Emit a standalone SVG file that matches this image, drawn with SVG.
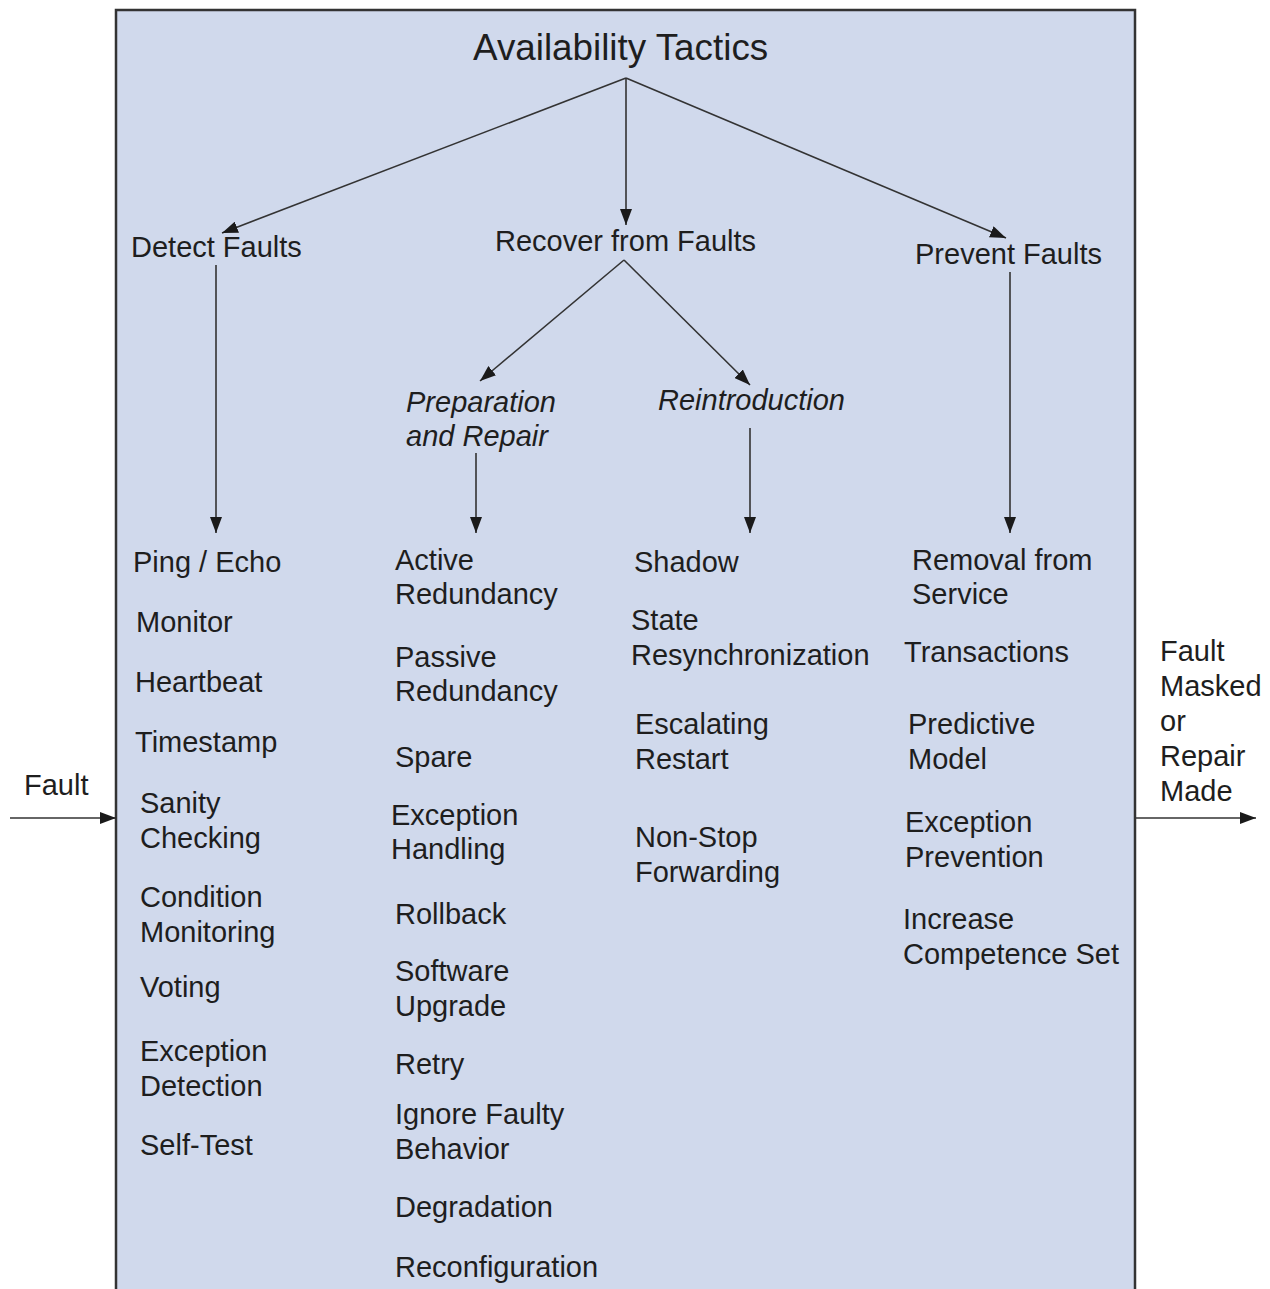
<svg xmlns="http://www.w3.org/2000/svg" width="1270" height="1289" viewBox="0 0 1270 1289">
<defs>
<marker id="ah" viewBox="0 0 16 12" refX="16" refY="6" markerWidth="16" markerHeight="12" markerUnits="userSpaceOnUse" orient="auto"><path d="M0,0 L16,6 L0,12 z" fill="#1a1a1a"/></marker>
<style>
text{font-family:"Liberation Sans",Arial,Helvetica,sans-serif;fill:#1e1e1e;font-size:29px}
.it{font-style:italic}
.title{font-size:36.8px}
.c{stroke:#333;stroke-width:1.6;fill:none;marker-end:url(#ah)}
</style>
</defs>
<rect x="0" y="0" width="1270" height="1289" fill="#ffffff"/>
<rect id="frame" x="116" y="10" width="1019" height="1300" fill="#d0d9ec" stroke="#333" stroke-width="2.5"/>
<g id="connectors">
<line class="c" x1="626" y1="78" x2="222" y2="233"/>
<line class="c" x1="626" y1="78" x2="626" y2="225"/>
<line class="c" x1="626" y1="78" x2="1006" y2="238"/>
<line class="c" x1="624" y1="260" x2="480" y2="381"/>
<line class="c" x1="624" y1="260" x2="750" y2="385"/>
<line class="c" x1="216" y1="265" x2="216" y2="533"/>
<line class="c" x1="1010" y1="272" x2="1010" y2="533"/>
<line class="c" x1="476" y1="453" x2="476" y2="533"/>
<line class="c" x1="750" y1="428" x2="750" y2="533"/>
<line class="c" x1="10" y1="818" x2="116" y2="818"/>
<line class="c" x1="1136" y1="818" x2="1256" y2="818"/>
</g>
<g id="title"><text class="title" x="473" y="60">Availability Tactics</text></g>
<g id="detect"><text x="131" y="257">Detect Faults</text></g>
<g id="recover"><text x="495" y="251">Recover from Faults</text></g>
<g id="prevent"><text x="915" y="264">Prevent Faults</text></g>
<g id="prep"><text class="it" x="406" y="412">Preparation</text><text class="it" x="406" y="446">and Repair</text></g>
<g id="reintro"><text class="it" x="658" y="410">Reintroduction</text></g>
<g id="detect-items">
<text x="133" y="572">Ping / Echo</text>
<text x="136" y="632">Monitor</text>
<text x="135" y="692">Heartbeat</text>
<text x="135" y="752">Timestamp</text>
<text x="140" y="813">Sanity</text>
<text x="140" y="848">Checking</text>
<text x="140" y="907">Condition</text>
<text x="140" y="942">Monitoring</text>
<text x="140" y="997">Voting</text>
<text x="140" y="1061">Exception</text>
<text x="140" y="1096">Detection</text>
<text x="140" y="1155">Self-Test</text>
</g>
<g id="prep-items">
<text x="395" y="570">Active</text>
<text x="395" y="604">Redundancy</text>
<text x="395" y="667">Passive</text>
<text x="395" y="701">Redundancy</text>
<text x="395" y="767">Spare</text>
<text x="391" y="825">Exception</text>
<text x="391" y="859">Handling</text>
<text x="395" y="924">Rollback</text>
<text x="395" y="981">Software</text>
<text x="395" y="1016">Upgrade</text>
<text x="395" y="1074">Retry</text>
<text x="395" y="1124">Ignore Faulty</text>
<text x="395" y="1159">Behavior</text>
<text x="395" y="1217">Degradation</text>
<text x="395" y="1277">Reconfiguration</text>
</g>
<g id="reintro-items">
<text x="634" y="572">Shadow</text>
<text x="631" y="630">State</text>
<text x="631" y="665">Resynchronization</text>
<text x="635" y="734">Escalating</text>
<text x="635" y="769">Restart</text>
<text x="635" y="847">Non-Stop</text>
<text x="635" y="882">Forwarding</text>
</g>
<g id="prevent-items">
<text x="912" y="570">Removal from</text>
<text x="912" y="604">Service</text>
<text x="904" y="662">Transactions</text>
<text x="908" y="734">Predictive</text>
<text x="908" y="769">Model</text>
<text x="905" y="832">Exception</text>
<text x="905" y="867">Prevention</text>
<text x="903" y="929">Increase</text>
<text x="903" y="964">Competence Set</text>
</g>
<g id="fault-in"><text x="24" y="795">Fault</text></g>
<g id="fault-out">
<text x="1160" y="661">Fault</text>
<text x="1160" y="696">Masked</text>
<text x="1160" y="731">or</text>
<text x="1160" y="766">Repair</text>
<text x="1160" y="801">Made</text>
</g>
</svg>
